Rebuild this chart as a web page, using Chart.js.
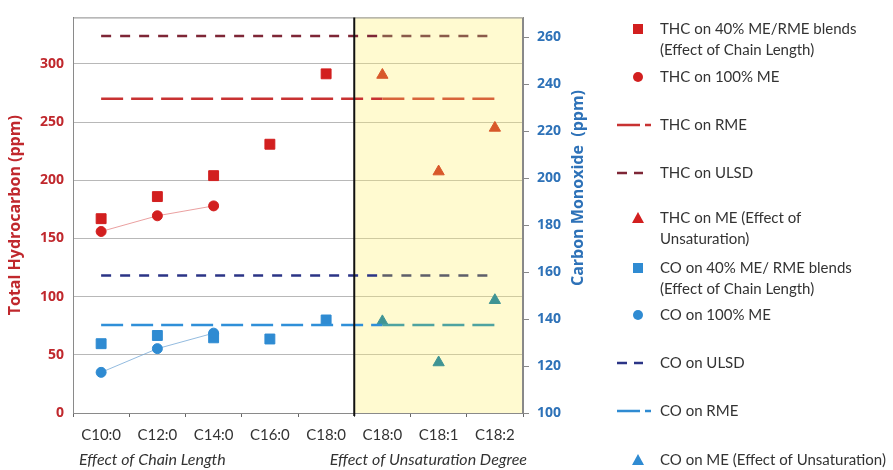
<!DOCTYPE html>
<html>
<head>
<meta charset="utf-8">
<script src="https://cdn.jsdelivr.net/npm/chart.js@4"></script>
<style>
  body { margin: 0; background: #fff; }
  #wrap { width: 893px; height: 470px; position: relative; }
</style>
</head>
<body>
<div id="wrap"><canvas id="emissionsChart"></canvas></div>
<script>
const categories = ['C10:0', 'C12:0', 'C14:0', 'C16:0', 'C18:0', 'C18:0', 'C18:1', 'C18:2'];
const groupLabels = ['Effect of Chain Length', 'Effect of Unsaturation Degree'];

// THC, left axis (ppm)
const thcBlend = [167, 186, 204, 231, 291.5, null, null, null];
const thcNeat = [156, 169.5, 178, null, null, null, null, null];
const thcUnsat = [null, null, null, null, null, 290.5, 207.5, 245];
const thcRME = 270;
const thcULSD = 324;

// CO, right axis (ppm)
const coBlend = [129.5, 133, 132, 131.5, 139.6, null, null, null];
const coNeat = [117.3, 127.4, 134, null, null, null, null, null];
const coUnsat = [null, null, null, null, null, 139, 121.5, 148];
const coRME = 137.5;
const coULSD = 158.5;

const thcTicks = [0, 50, 100, 150, 200, 250, 300];
const coTicks = [100, 120, 140, 160, 180, 200, 220, 240, 260];

const RED = '#d21f1f';
const BLUE = '#2f8bd2';
const FONT = 'Lato';
const WIDE = 'Open Sans';

function flat(v) { return categories.map(() => v); }

const legendItems = [
    { kind: 'rect', color: RED, y: 29, lines: ['THC on 40% ME/RME blends', '(Effect of Chain Length)'] },
    { kind: 'circle', color: RED, y: 77, lines: ['THC on 100% ME'] },
    { kind: 'long', color: '#c83232', y: 125, lines: ['THC on RME'] },
    { kind: 'short', color: '#7e2636', y: 173, lines: ['THC on ULSD'] },
    { kind: 'triangle', color: RED, y: 218, lines: ['THC on ME (Effect of', 'Unsaturation)'] },
    { kind: 'rect', color: BLUE, y: 268, lines: ['CO on 40% ME/ RME blends', '(Effect of Chain Length)'] },
    { kind: 'circle', color: BLUE, y: 315, lines: ['CO on 100% ME'] },
    { kind: 'short', color: '#2b3486', y: 363, lines: ['CO on ULSD'] },
    { kind: 'long', color: BLUE, y: 411, lines: ['CO on RME'] },
    { kind: 'triangle', color: BLUE, y: 460, lines: ['CO on ME (Effect of Unsaturation)'] }
];

function splitX(chart) {
    const x = chart.scales.x;
    return (x.getPixelForValue(4) + x.getPixelForValue(5)) / 2;
}

const decorPlugin = {
    id: 'decor',
    beforeDatasetsDraw(chart) {
        const { ctx, chartArea } = chart;
        const split = splitX(chart);
        ctx.save();
        // yellow band behind the unsaturation section
        ctx.fillStyle = 'rgba(255, 240, 110, 0.32)';
        ctx.fillRect(split, chartArea.top, chartArea.right - split, chartArea.bottom - chartArea.top);
        ctx.restore();
    },
    afterDatasetsDraw(chart) {
        const { ctx, chartArea } = chart;
        const split = splitX(chart);
        ctx.save();
        ctx.strokeStyle = '#8a8a8a';
        ctx.lineWidth = 1;
        ctx.strokeRect(chartArea.left + 0.5, chartArea.top + 0.5, chartArea.right - chartArea.left - 1, chartArea.bottom - chartArea.top);
        ctx.strokeStyle = '#111';
        ctx.lineWidth = 2;
        ctx.beginPath();
        ctx.moveTo(split, chartArea.top);
        ctx.lineTo(split, chartArea.bottom + 3);
        ctx.stroke();
        ctx.restore();
    },
    afterDraw(chart) {
        const { ctx } = chart;
        ctx.save();
        // right axis title, reading bottom to top
        ctx.translate(578, 188);
        ctx.rotate(-Math.PI / 2);
        ctx.fillStyle = '#2e72b8';
        ctx.font = 'bold 16px ' + WIDE;
        ctx.textAlign = 'center';
        ctx.textBaseline = 'middle';
        ctx.fillText('Carbon Monoxide  (ppm)', 0, 0);
        ctx.restore();

        ctx.save();
        // group captions under the category axis
        ctx.fillStyle = '#333';
        ctx.font = 'italic 16px ' + FONT;
        ctx.textBaseline = 'middle';
        ctx.textAlign = 'left';
        ctx.fillText(groupLabels[0], 79, 460);
        ctx.textAlign = 'right';
        ctx.fillText(groupLabels[1], 527, 460);

        // legend
        ctx.textAlign = 'left';
        ctx.font = '15px ' + FONT;
        legendItems.forEach(item => {
            const cx = 638, cy = item.y;
            ctx.fillStyle = item.color;
            ctx.strokeStyle = item.color;
            if (item.kind === 'rect') {
                ctx.fillRect(cx - 5, cy - 5, 10, 10);
            } else if (item.kind === 'circle') {
                ctx.beginPath();
                ctx.arc(cx, cy, 5, 0, Math.PI * 2);
                ctx.fill();
            } else if (item.kind === 'triangle') {
                ctx.beginPath();
                ctx.moveTo(cx, cy - 6);
                ctx.lineTo(cx + 6, cy + 5);
                ctx.lineTo(cx - 6, cy + 5);
                ctx.closePath();
                ctx.fill();
            } else {
                ctx.lineWidth = 2.5;
                ctx.beginPath();
                if (item.kind === 'long') {
                    ctx.moveTo(617, cy); ctx.lineTo(640, cy);
                    ctx.moveTo(645, cy); ctx.lineTo(651, cy);
                } else {
                    ctx.moveTo(617, cy); ctx.lineTo(627, cy);
                    ctx.moveTo(634, cy); ctx.lineTo(643, cy);
                }
                ctx.stroke();
            }
            ctx.fillStyle = '#333';
            item.lines.forEach((t, i) => ctx.fillText(t, 660, cy + i * 21));
        });
        ctx.restore();
    }
};

function markers(label, data, axis, style, color, radius) {
    return {
        label: label,
        data: data,
        yAxisID: axis,
        showLine: false,
        pointStyle: style,
        pointRadius: radius,
        pointHoverRadius: radius,
        pointBackgroundColor: color,
        pointBorderColor: color,
        borderColor: color,
        backgroundColor: color
    };
}

function trend(label, data, axis, color, pointColor) {
    return {
        label: label,
        data: data,
        yAxisID: axis,
        pointStyle: 'circle',
        pointRadius: 5,
        pointBackgroundColor: pointColor,
        pointBorderColor: pointColor,
        borderColor: color,
        borderWidth: 1,
        backgroundColor: pointColor
    };
}

// dashed reference level; segments inside the yellow band take a tinted colour
function level(label, value, axis, color, tinted, dash) {
    return {
        label: label,
        data: flat(value),
        yAxisID: axis,
        borderColor: color,
        borderWidth: 2.5,
        borderDash: dash,
        pointRadius: 0,
        fill: false,
        segment: {
            borderColor: c => c.p0DataIndex >= 5 ? tinted : color
        }
    };
}

const ctx = document.getElementById('emissionsChart').getContext('2d');
const myChart = new Chart(ctx, {
    type: 'line',
    data: {
        labels: categories,
        datasets: [
            level('THC on ULSD', thcULSD, 'y', '#7e2636', '#8a5a4a', [10, 9]),
            level('THC on RME', thcRME, 'y', '#c83232', '#d8643a', [22, 8]),
            level('CO on ULSD', coULSD, 'y1', '#2b3486', '#5e5e6a', [10, 9]),
            level('CO on RME', coRME, 'y1', '#2f8fd8', '#4ea3a0', [22, 8]),
            trend('THC on 100% ME', thcNeat, 'y', 'rgba(225, 120, 120, 0.7)', RED),
            trend('CO on 100% ME', coNeat, 'y1', 'rgba(120, 170, 215, 0.8)', BLUE),
            markers('THC on 40% ME/RME blends', thcBlend, 'y', 'rect', RED, 7),
            markers('THC on ME', thcUnsat, 'y', 'triangle', '#d8582a', 6.5),
            markers('CO on 40% ME/ RME blends', coBlend, 'y1', 'rect', BLUE, 7),
            markers('CO on ME', coUnsat, 'y1', 'triangle', '#3f9494', 6.5)
        ]
    },
    options: {
        responsive: true,
        maintainAspectRatio: false,
        animation: false,
        layout: {
            padding: { top: 13, right: 298, left: 0, bottom: 0 }
        },
        plugins: {
            legend: { display: false },
            title: { display: false },
            tooltip: { enabled: false }
        },
        scales: {
            x: {
                offset: true,
                afterFit: function(scale) { scale.height = 57; },
                grid: {
                    offset: true,
                    drawOnChartArea: false,
                    tickLength: 4,
                    color: '#666'
                },
                border: { color: '#777' },
                ticks: {
                    color: '#333',
                    padding: 9,
                    maxRotation: 0,
                    font: { family: FONT, size: 15 }
                }
            },
            y: {
                position: 'left',
                min: 0,
                max: 340,
                afterFit: function(scale) { scale.width = 73; },
                afterBuildTicks: function(scale) {
                    scale.ticks = thcTicks.map(v => ({ value: v }));
                },
                grid: {
                    color: '#b8b8b8',
                    drawTicks: false
                },
                border: { color: '#777' },
                title: {
                    display: true,
                    text: 'Total Hydrocarbon (ppm)',
                    color: '#c0282d',
                    padding: { top: 6, bottom: 0 },
                    font: { family: WIDE, size: 16, weight: 'bold' }
                },
                ticks: {
                    color: '#c0282d',
                    padding: 9,
                    font: { family: WIDE, size: 14, weight: 'bold' }
                }
            },
            y1: {
                position: 'right',
                min: 100,
                max: 268.4,
                afterFit: function(scale) { scale.width = 72; },
                afterBuildTicks: function(scale) {
                    scale.ticks = coTicks.map(v => ({ value: v }));
                },
                grid: {
                    drawOnChartArea: false,
                    tickLength: 6,
                    color: '#888'
                },
                border: { color: '#888' },
                ticks: {
                    color: '#2e72b8',
                    padding: 8,
                    font: { family: WIDE, size: 14, weight: 'bold' }
                }
            }
        }
    },
    plugins: [decorPlugin]
});
</script>
</body>
</html>
